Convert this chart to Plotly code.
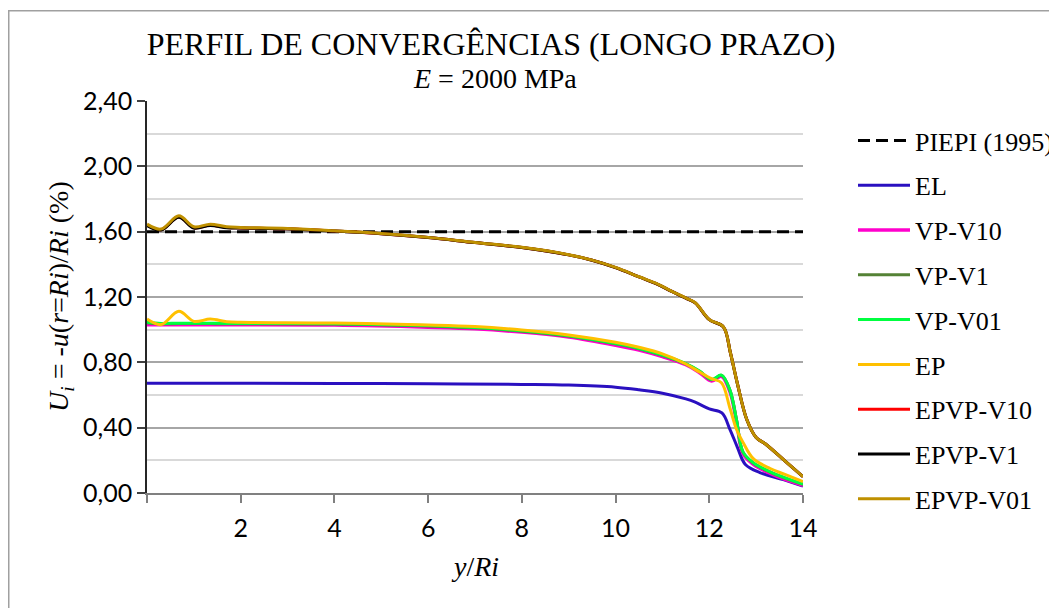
import plotly.graph_objects as go

# ---------------- data ----------------
x_piepi = [0, 14]
y_piepi = [1.60, 1.60]

x_el = [0, 2, 4, 6, 8, 9, 10, 10.5, 11, 11.5, 11.7, 12.0, 12.27, 12.44, 12.6, 12.77, 13.08, 13.58, 14]
y_el = [0.672, 0.672, 0.671, 0.669, 0.665, 0.661, 0.648, 0.632, 0.611, 0.576, 0.556, 0.515, 0.49, 0.39, 0.28, 0.175, 0.125, 0.082, 0.043]

x_mid = [0, 0.3, 0.68, 1.0, 1.35, 1.7, 2, 4, 6, 7, 8, 9, 10, 10.5, 11, 11.5, 11.8, 12.05, 12.26, 12.44, 12.58, 12.72, 12.94, 13.3, 13.6, 14]
y_vp_v10 = [1.030, 1.030, 1.030, 1.030, 1.030, 1.030, 1.030, 1.028, 1.015, 1.005, 0.985, 0.955, 0.905, 0.875, 0.835, 0.785, 0.735, 0.685, 0.715, 0.62, 0.44, 0.24, 0.175, 0.12, 0.085, 0.047]
y_vp_v1 = [1.043, 1.036, 1.038, 1.037, 1.037, 1.036, 1.036, 1.034, 1.023, 1.011, 0.991, 0.961, 0.913, 0.883, 0.843, 0.790, 0.743, 0.693, 0.720, 0.63, 0.45, 0.25, 0.183, 0.128, 0.093, 0.053]
y_vp_v01 = [1.045, 1.038, 1.040, 1.039, 1.039, 1.038, 1.038, 1.036, 1.025, 1.013, 0.993, 0.963, 0.915, 0.885, 0.845, 0.792, 0.745, 0.695, 0.722, 0.63, 0.45, 0.25, 0.185, 0.13, 0.095, 0.055]
y_ep = [1.065, 1.031, 1.112, 1.051, 1.065, 1.049, 1.045, 1.041, 1.029, 1.019, 0.998, 0.968, 0.923, 0.892, 0.852, 0.790, 0.739, 0.700, 0.675, 0.52, 0.39, 0.31, 0.21, 0.15, 0.115, 0.070]

x_epvp = [0, 0.3, 0.68, 1.0, 1.35, 1.7, 2, 3, 4, 5, 6, 7, 8, 9, 9.5, 10, 10.5, 10.9, 11.2, 11.5, 11.7, 12.0, 12.3, 12.45, 12.6, 12.8, 13.0, 13.2, 13.6, 14]
y_epvp_v10 = [1.640, 1.612, 1.690, 1.624, 1.640, 1.626, 1.623, 1.618, 1.604, 1.588, 1.564, 1.533, 1.503, 1.458, 1.425, 1.380, 1.323, 1.278, 1.234, 1.193, 1.164, 1.061, 1.017, 0.86, 0.67, 0.45, 0.34, 0.30, 0.20, 0.10]
y_epvp_v1 = [1.638, 1.610, 1.688, 1.622, 1.638, 1.624, 1.622, 1.617, 1.604, 1.588, 1.564, 1.533, 1.503, 1.458, 1.425, 1.380, 1.323, 1.278, 1.234, 1.193, 1.164, 1.061, 1.017, 0.86, 0.67, 0.45, 0.34, 0.30, 0.20, 0.10]
y_epvp_v01 = [1.646, 1.616, 1.697, 1.630, 1.646, 1.630, 1.626, 1.620, 1.605, 1.589, 1.565, 1.534, 1.504, 1.459, 1.426, 1.381, 1.324, 1.279, 1.235, 1.194, 1.165, 1.062, 1.018, 0.86, 0.67, 0.45, 0.34, 0.30, 0.20, 0.10]

x_tick_vals = [0, 2, 4, 6, 8, 10, 12, 14]
x_tick_text = ["", "2", "4", "6", "8", "10", "12", "14"]
y_tick_vals = [0.0, 0.4, 0.8, 1.2, 1.6, 2.0, 2.4]

# ---------------- layout helpers (page pixel coordinates) ----------------
OFF = 8                      # default page body margin
PAGE_W, PAGE_H = 1057, 608
W, H = PAGE_W - OFF, PAGE_H - OFF
PL, PR, PT, PB = 147, 803, 101, 493   # plot area on the page

def px_x(px):
    return (px - PL) / (PR - PL)

def px_y(py):
    return (PB - py) / (PB - PT)

def cx(px):
    return (px - OFF) / W

def cy(py):
    return 1 - (py - OFF) / H

SERIF = "Liberation Serif"
SANS = "Lato"

series = [
    ("PIEPI (1995)", x_piepi, y_piepi, "#000000", 3, "12px,6px", "linear"),
    ("EL", x_el, y_el, "#2A10C0", 3, "solid", "spline"),
    ("VP-V10", x_mid, y_vp_v10, "#FF00CC", 3.5, "solid", "spline"),
    ("VP-V1", x_mid, y_vp_v1, "#548235", 3, "solid", "spline"),
    ("VP-V01", x_mid, y_vp_v01, "#00FF40", 3, "solid", "spline"),
    ("EP", x_mid, y_ep, "#FFC000", 3, "solid", "spline"),
    ("EPVP-V10", x_epvp, y_epvp_v10, "#FF0000", 3, "solid", "spline"),
    ("EPVP-V1", x_epvp, y_epvp_v1, "#000000", 3, "solid", "spline"),
    ("EPVP-V01", x_epvp, y_epvp_v01, "#BF9000", 3, "solid", "spline"),
]

fig = go.Figure()
for i, (name, xs, ys, color, width, dash, shape) in enumerate(series):
    fig.add_trace(go.Scatter(
        x=xs, y=ys, name=name, mode="lines", legendgroup=f"g{i}",
        line=dict(color=color, width=width, dash=dash, shape=shape, smoothing=1.0),
    ))

fig.update_layout(
    width=W, height=H,
    margin=dict(l=PL - OFF, r=W - (PR - OFF), t=PT - OFF, b=H - (PB - OFF), autoexpand=False),
    paper_bgcolor="white", plot_bgcolor="white",
    separators=",.",
    showlegend=True,
    title=dict(
        text="PERFIL DE CONVERGÊNCIAS (LONGO PRAZO)",
        x=cx(491), xref="container", xanchor="center",
        y=cy(44), yref="container", yanchor="middle",
        font=dict(family=SERIF, size=32, color="#000000"),
    ),
    legend=dict(
        x=px_x(853), xanchor="left", y=px_y(117), yanchor="top",
        font=dict(family=SERIF, size=26, color="#000000"),
        bgcolor="rgba(0,0,0,0)", itemwidth=52,
        traceorder="grouped", tracegroupgap=8,
    ),
    xaxis=dict(
        range=[0, 14], tickvals=x_tick_vals, ticktext=x_tick_text,
        showgrid=False, zeroline=False,
        showline=True, linecolor="#808080", linewidth=1.5,
        ticks="outside", ticklen=8, tickcolor="#808080", tickwidth=1.5,
        ticklabelstandoff=4,
        tickfont=dict(family=SANS, size=25, color="#000000"),
    ),
    yaxis=dict(
        range=[0, 2.4], tickvals=y_tick_vals, tickformat=".2f",
        showgrid=True, gridcolor="#A6A6A6", gridwidth=1.5,
        zeroline=False,
        showline=True, linecolor="#262626", linewidth=1.5,
        ticks="outside", ticklen=8, tickcolor="#404040", tickwidth=1.5,
        tickfont=dict(family=SANS, size=25, color="#000000"),
        minor=dict(dtick=0.2, showgrid=True, gridcolor="#D9D9D9", gridwidth=1.5, ticks=""),
    ),
    shapes=[dict(
        type="rect", xref="paper", yref="paper",
        x0=px_x(8.75), x1=px_x(1075), y0=px_y(615), y1=px_y(10.75),
        line=dict(color="#A0A0A0", width=1.5), fillcolor="rgba(0,0,0,0)", layer="below",
    )],
    annotations=[
        dict(text="<i>E</i> = 2000 MPa", xref="paper", yref="paper",
             x=px_x(495), y=px_y(78), xanchor="center", yanchor="middle",
             showarrow=False, font=dict(family=SERIF, size=28, color="#000000")),
        dict(text="<i>U<sub>i</sub></i> = -<i>u</i>(<i>r</i>=<i>Ri</i>)/<i>Ri</i> (%)",
             xref="paper", yref="paper", x=px_x(60), y=0.5, textangle=-90,
             xanchor="center", yanchor="middle", showarrow=False,
             font=dict(family=SERIF, size=28, color="#000000")),
        dict(text="<i>y</i>/<i>Ri</i>", xref="paper", yref="paper",
             x=0.5, y=px_y(566), xanchor="center", yanchor="middle",
             showarrow=False, font=dict(family=SERIF, size=28, color="#000000")),
    ],
)

fig.write_html("out.html")
